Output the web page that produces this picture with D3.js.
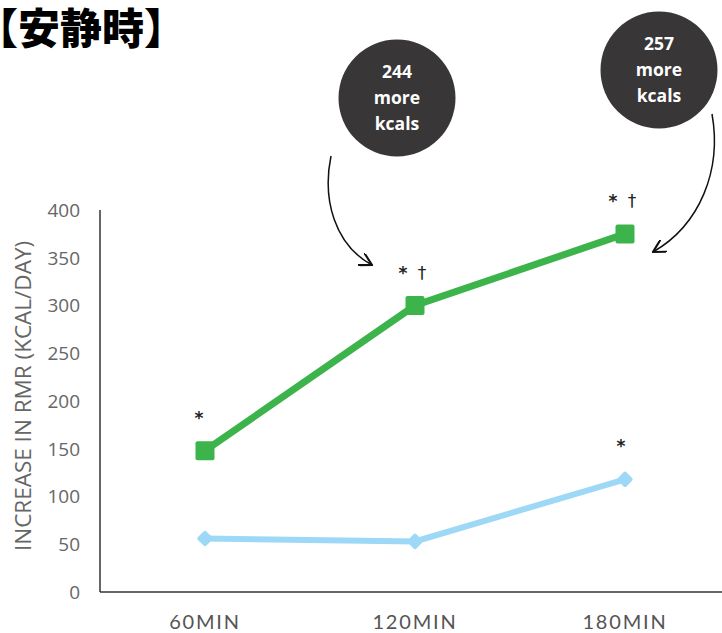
<!DOCTYPE html>
<html><head><meta charset="utf-8">
<script src="https://cdn.jsdelivr.net/npm/d3@7"></script>
<style>body{margin:0;background:#fff}svg{display:block}</style>
</head><body>
<script>
const categories = ["60MIN", "120MIN", "180MIN"];
const greenValues = [148, 300, 375];
const blueValues = [56, 53, 118];
const yTicks = [0, 50, 100, 150, 200, 250, 300, 350, 400];
const greenStars = [true, true, true];
const greenDaggers = [false, true, true];
const blueStars = [false, false, true];
const bubbleLines = [["244", "more", "kcals"], ["257", "more", "kcals"]];

const W = 722, H = 633;
const svg = d3.select("body").append("svg").attr("width", W).attr("height", H);
const x = d3.scalePoint().domain(categories).range([205, 625]);
const y = d3.scaleLinear().domain([0, 400]).range([592, 210]);

// title
svg.append("text").attr("x", -24).attr("y", 44).attr("font-family", "Noto Sans CJK JP")
  .attr("font-weight", "900").attr("font-size", 42).attr("fill", "#000").text("【安静時】");

// axes
svg.append("line").attr("x1", 100).attr("x2", 100).attr("y1", 210).attr("y2", 592).attr("stroke", "#333").attr("stroke-width", 1.5);
svg.append("line").attr("x1", 100).attr("x2", 722).attr("y1", 592).attr("y2", 592).attr("stroke", "#333").attr("stroke-width", 1.5);

svg.selectAll(".yt").data(yTicks).join("text").attr("x", 80).attr("y", d => y(d)).attr("dy", "0.36em")
  .attr("text-anchor", "end").attr("font-family", "Open Sans").attr("font-size", 19).attr("fill", "#666").text(d => d);
svg.selectAll(".xt").data(categories).join("text").attr("x", d => x(d)).attr("y", 629)
  .attr("text-anchor", "middle").attr("font-family", "Lato").attr("font-size", 20).attr("letter-spacing", 1.8)
  .attr("fill", "#555").text(d => d);
svg.append("text").attr("transform", "translate(31,396) rotate(-90)").attr("text-anchor", "middle")
  .attr("font-family", "Open Sans").attr("font-size", 22.5).attr("fill", "#666").text("INCREASE IN RMR (KCAL/DAY)");

// lines
const line = d3.line().x((d, i) => x(categories[i])).y(d => y(d));
svg.append("path").attr("d", line(blueValues)).attr("fill", "none").attr("stroke", "#9dd9f6").attr("stroke-width", 6);
svg.append("path").attr("d", line(greenValues)).attr("fill", "none").attr("stroke", "#3cb44b").attr("stroke-width", 7);

svg.selectAll(".bm").data(blueValues).join("rect").attr("width", 12).attr("height", 12).attr("rx", 2)
  .attr("transform", (d, i) => `translate(${x(categories[i])},${y(d)}) rotate(45) translate(-6,-6)`).attr("fill", "#9dd9f6");
svg.selectAll(".gm").data(greenValues).join("rect").attr("x", (d, i) => x(categories[i]) - 9.5).attr("y", d => y(d) - 9.5)
  .attr("width", 19).attr("height", 19).attr("rx", 2).attr("fill", "#3cb44b");

// significance marks
const markFont = g => g.attr("font-family", "DejaVu Sans").attr("font-size", 17).attr("fill", "#222").attr("text-anchor", "middle");
greenValues.forEach((v, i) => {
  const cx = x(categories[i]), cy = y(v);
  if (greenStars[i]) svg.append("text").call(markFont).attr("font-weight", "bold")
    .attr("x", cx + (greenDaggers[i] ? -12 : -6)).attr("y", cy - 27).text("*");
  if (greenDaggers[i]) svg.append("text").call(markFont).attr("x", cx + 7).attr("y", cy - 27).text("†");
});
blueValues.forEach((v, i) => {
  if (blueStars[i]) svg.append("text").call(markFont).attr("font-weight", "bold")
    .attr("x", x(categories[i]) - 4).attr("y", y(v) - 27).text("*");
});

// bubbles
const bpos = [[397, 98], [659, 70]];
bubbleLines.forEach((lines, i) => {
  const g = svg.append("g").attr("transform", `translate(${bpos[i][0]},${bpos[i][1]})`);
  g.append("circle").attr("r", 58.5).attr("fill", "#383636");
  lines.forEach((t, j) => g.append("text").attr("y", (j - 1) * 26).attr("dy", "0.35em").attr("text-anchor", "middle")
    .attr("font-family", "Open Sans").attr("font-weight", "bold").attr("font-size", 17.5).attr("fill", "#fff").text(t));
});

// arrows
const defs = svg.append("defs");
defs.append("marker").attr("id", "ah").attr("viewBox", "0 0 10 10").attr("refX", 9).attr("refY", 5)
  .attr("markerWidth", 14).attr("markerHeight", 14).attr("markerUnits", "userSpaceOnUse").attr("orient", "auto")
  .append("path").attr("d", "M0,0 L9,5 L0,10").attr("fill", "none").attr("stroke", "#111").attr("stroke-width", 1.5);
svg.append("path").attr("d", "M331,156 C322,200 335,245 372,265").attr("fill", "none").attr("stroke", "#111")
  .attr("stroke-width", 1.5).attr("marker-end", "url(#ah)");
svg.append("path").attr("d", "M712,114 C722,170 700,225 653,252").attr("fill", "none").attr("stroke", "#111")
  .attr("stroke-width", 1.5).attr("marker-end", "url(#ah)");
</script>
</body></html>
